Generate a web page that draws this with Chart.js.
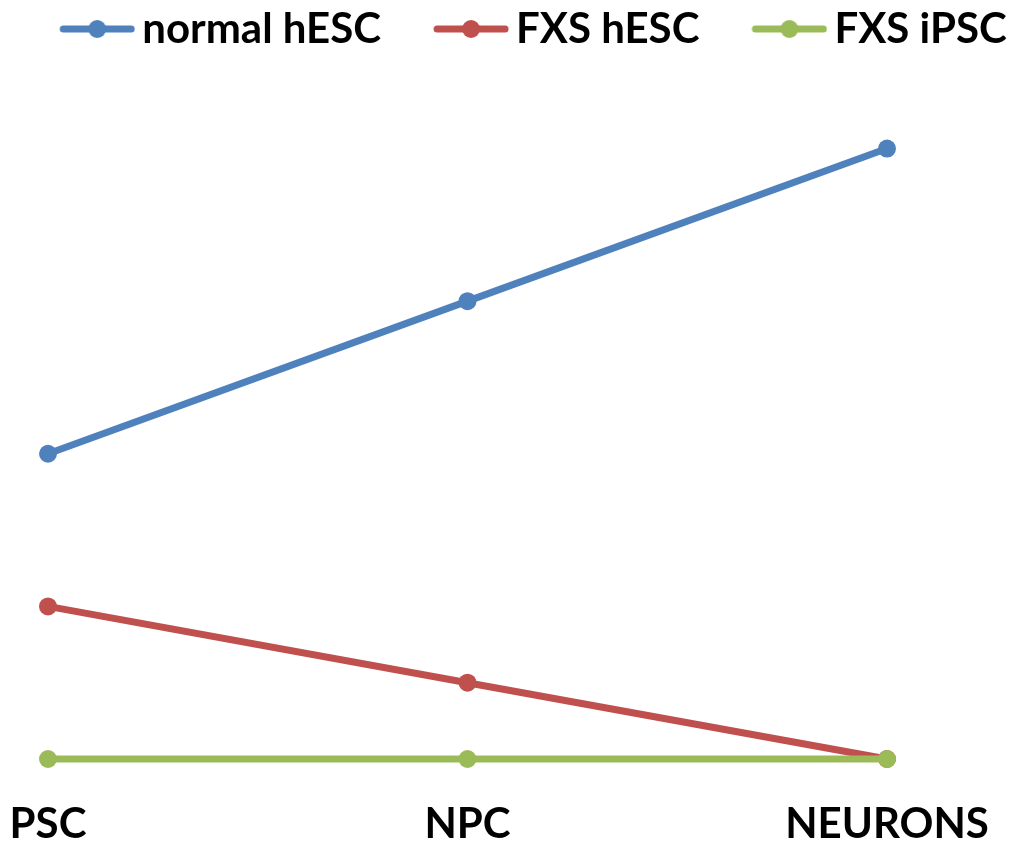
<!DOCTYPE html>
<html>
<head>
<meta charset="utf-8">
<script src="https://cdn.jsdelivr.net/npm/chart.js@4"></script>
<style>
  html, body { margin: 0; padding: 0; background: #fff; }
  #chart { display: block; }
</style>
</head>
<body>
<canvas id="chart" width="1022" height="846"></canvas>
<script>
const categories = ['PSC', 'NPC', 'NEURONS'];
const seriesNames = ['normal hESC', 'FXS hESC', 'FXS iPSC'];
const normalHesc = [2, 3, 4];
const fxsHesc = [1, 0.5, 0];
const fxsIpsc = [0, 0, 0];
const colors = ['#4F81BD', '#C0504D', '#9BBB59'];

// legend marker: line with a dot, blank margin on the left to space items out
function marker(color) {
  const c = document.createElement('canvas');
  c.width = 134; c.height = 22;
  const g = c.getContext('2d');
  g.strokeStyle = color; g.lineWidth = 7; g.lineCap = 'round';
  g.beginPath(); g.moveTo(62, 11); g.lineTo(130, 11); g.stroke();
  g.fillStyle = color;
  g.beginPath(); g.arc(96, 11, 9, 0, Math.PI * 2); g.fill();
  return c;
}

const font = { family: 'Lato, "Open Sans", sans-serif', weight: 'bold', size: 42, lineHeight: 1 };

// later series sit on top (green over red at NEURONS)
const datasets = [normalHesc, fxsHesc, fxsIpsc].map((d, i) => ({
  label: seriesNames[i],
  data: d,
  order: 2 - i,
  borderColor: colors[i],
  backgroundColor: colors[i],
  borderWidth: 7,
  pointRadius: 9,
  pointHoverRadius: 9,
  pointBorderWidth: 0,
  tension: 0,
  clip: false
}));

const hiddenAxis = (pos, w) => ({
  type: 'linear',
  position: pos,
  display: true,
  min: 0,
  max: 4.58,
  grid: { display: false },
  border: { display: false },
  ticks: { display: false },
  afterFit: s => { s.width = w; }
});

new Chart(document.getElementById('chart').getContext('2d'), {
  type: 'line',
  data: { labels: categories, datasets },
  options: {
    responsive: false,
    animation: false,
    layout: { padding: 0 },
    plugins: {
      tooltip: { enabled: false },
      legend: {
        position: 'top',
        labels: {
          usePointStyle: true,
          pointStyleWidth: 106,
          color: '#000',
          font,
          padding: 8,
          generateLabels: chart => seriesNames.map((name, i) => ({
            text: name,
            pointStyle: marker(colors[i]),
            fillStyle: colors[i],
            strokeStyle: colors[i],
            lineWidth: 0,
            hidden: false,
            datasetIndex: i,
            fontColor: '#000'
          }))
        }
      }
    },
    scales: {
      x: {
        offset: false,
        grid: { display: false, drawTicks: true, tickLength: 44 },
        border: { display: false },
        ticks: { color: '#000', font, padding: 0, maxRotation: 0, autoSkip: false },
        afterFit: s => { s.height = 87; }
      },
      y: hiddenAxis('left', 48),
      y2: hiddenAxis('right', 135)
    }
  }
});
</script>
</body>
</html>
